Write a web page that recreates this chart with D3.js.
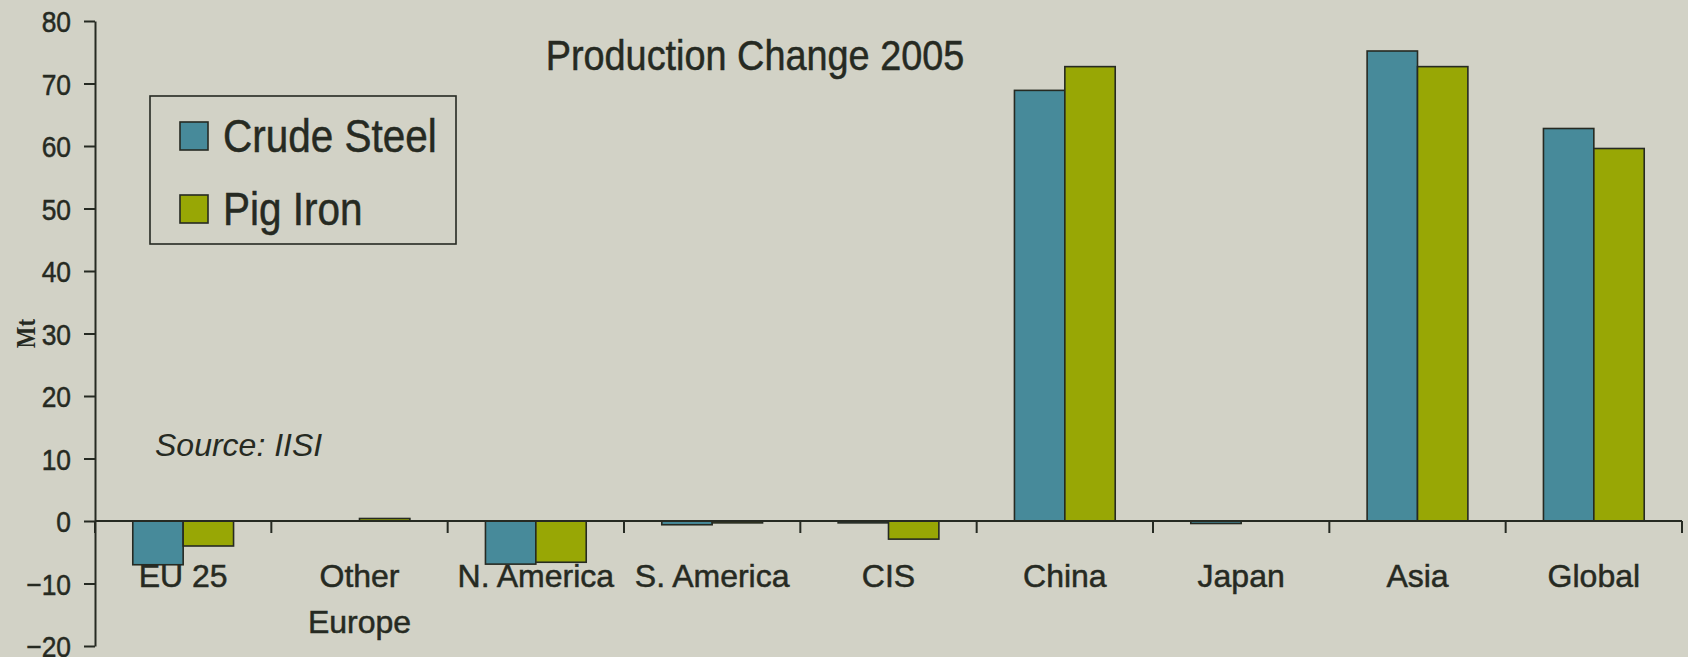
<!DOCTYPE html>
<html>
<head>
<meta charset="utf-8">
<script src="https://cdn.jsdelivr.net/npm/d3@7"></script>
<style>
    body { margin: 0; background: #d2d2c6; }
    svg { display: block; }
    .narrow { font-family: "Liberation Sans Narrow", "Arial Narrow", "Liberation Sans", Arial, sans-serif; fill: #262a22; stroke: #262a22; stroke-width: 0.5px; }
</style>
</head>
<body>
<svg id="plotSvg"></svg>
<script>
const categories = ["EU 25", "Other Europe", "N. America", "S. America", "CIS", "China", "Japan", "Asia", "Global"];
const categoryLines = [["EU 25"], ["Other", "Europe"], ["N. America"], ["S. America"], ["CIS"], ["China"], ["Japan"], ["Asia"], ["Global"]];
const seriesNames = ["Crude Steel", "Pig Iron"];
const crudeSteel = [-7.0, 0, -6.9, -0.6, -0.3, 68.9, -0.4, 75.2, 62.8];
const pigIron = [-4.0, 0.4, -6.6, -0.3, -2.9, 72.7, 0, 72.7, 59.6];
const yTicks = [-20, -10, 0, 10, 20, 30, 40, 50, 60, 70, 80];
const seriesColors = ["#478a9a", "#98a705"];

function plotGraph() {
    const W = 1688, H = 657;
    const margin = { top: 21, right: 6, bottom: 11, left: 95 };
    const ink = "#262a22";
    const squeeze = 0.88; // narrow face look

    const svg = d3.select("#plotSvg")
        .attr("width", W)
        .attr("height", H);

    svg.append("rect").attr("width", W).attr("height", H).attr("fill", "#d2d2c6");

    const x = d3.scaleBand()
        .domain(categories)
        .range([margin.left, W - margin.right])
        .padding(0);
    const bw = x.bandwidth();
    const gap = bw * 0.75 / 3.5;
    const x1 = d3.scaleBand()
        .domain(seriesNames)
        .range([gap, bw - gap]);

    const y = d3.scaleLinear()
        .domain([-20, 80])
        .range([H - margin.bottom, margin.top]);

    // rows for bars
    const rows = [];
    categories.forEach((c, i) => {
        rows.push({ cat: c, s: seriesNames[0], v: crudeSteel[i], color: seriesColors[0] });
        rows.push({ cat: c, s: seriesNames[1], v: pigIron[i], color: seriesColors[1] });
    });

    svg.append("g")
        .selectAll("rect")
        .data(rows.filter(d => d.v !== 0))
        .join("rect")
        .attr("x", d => x(d.cat) + x1(d.s))
        .attr("width", x1.bandwidth())
        .attr("y", d => y(Math.max(0, d.v)))
        .attr("height", d => Math.abs(y(d.v) - y(0)))
        .attr("fill", d => d.color)
        .attr("stroke", ink)
        .attr("stroke-width", 1.6);

    // y axis
    const yAxis = svg.append("g")
        .attr("transform", `translate(${margin.left},0)`)
        .call(d3.axisLeft(y).tickValues(yTicks).tickSize(11).tickSizeOuter(0).tickPadding(13));
    yAxis.select(".domain").attr("stroke", ink).attr("stroke-width", 2);
    yAxis.selectAll(".tick line").attr("stroke", ink).attr("stroke-width", 2);
    yAxis.selectAll(".tick text")
        .attr("class", "narrow")
        .attr("x", 0)
        .attr("dy", "0.36em")
        .attr("transform", `translate(-24,0) scale(${squeeze},1)`)
        .style("font-size", "30px");

    // x axis line at zero with ticks at category boundaries
    const xAxis = svg.append("g");
    xAxis.append("line")
        .attr("x1", x.range()[0]).attr("x2", x.range()[1])
        .attr("y1", y(0)).attr("y2", y(0))
        .attr("stroke", ink).attr("stroke-width", 2);
    const bounds = categories.map(c => x(c)).concat([x.range()[1]]);
    xAxis.selectAll(".xtick")
        .data(bounds)
        .join("line")
        .attr("x1", d => d).attr("x2", d => d)
        .attr("y1", y(0)).attr("y2", y(0) + 12)
        .attr("stroke", ink).attr("stroke-width", 2);

    const labels = xAxis.selectAll(".xlabel")
        .data(categories)
        .join("text")
        .attr("class", "narrow")
        .attr("text-anchor", "middle")
        .attr("x", d => x(d) + bw / 2)
        .attr("y", y(0) + 66)
        .style("font-size", "32px");
    labels.each(function (d, i) {
        const t = d3.select(this);
        categoryLines[i].forEach((ln, k) => {
            t.append("tspan")
                .attr("x", x(d) + bw / 2)
                .attr("dy", k === 0 ? 0 : 46)
                .text(ln);
        });
    });

    // y label (condensed serif)
    svg.append("text")
        .attr("transform", `translate(35,${y(30)}) rotate(-90) scale(0.82,1)`)
        .attr("text-anchor", "middle")
        .style("font-family", "'Liberation Serif', 'Times New Roman', serif")
        .style("font-weight", "bold")
        .style("font-size", "28px")
        .attr("fill", ink)
        .text("Mt");

    // title
    svg.append("text")
        .attr("class", "narrow")
        .attr("transform", `translate(755,70) scale(${squeeze},1)`)
        .attr("text-anchor", "middle")
        .style("font-size", "43px")
        .text("Production Change 2005");

    // source
    svg.append("text")
        .attr("x", 155)
        .attr("y", 456)
        .style("font-family", "'Liberation Sans', Arial, sans-serif")
        .style("font-style", "italic")
        .style("font-size", "32px")
        .attr("fill", ink)
        .text("Source: IISI");

    // legend
    const legend = svg.append("g").attr("transform", "translate(150,96)");
    legend.append("rect")
        .attr("width", 306).attr("height", 148)
        .attr("fill", "none")
        .attr("stroke", ink).attr("stroke-width", 1.6);
    const items = legend.selectAll(".item")
        .data(seriesNames)
        .join("g")
        .attr("transform", (d, i) => `translate(30,${26 + i * 73})`);
    items.append("rect")
        .attr("width", 28).attr("height", 28)
        .attr("fill", (d, i) => seriesColors[i])
        .attr("stroke", ink).attr("stroke-width", 1.6);
    items.append("text")
        .attr("class", "narrow")
        .attr("transform", `translate(43,30) scale(${squeeze},1)`)
        .style("font-size", "46px")
        .text(d => d);
}

plotGraph();
</script>
</body>
</html>
